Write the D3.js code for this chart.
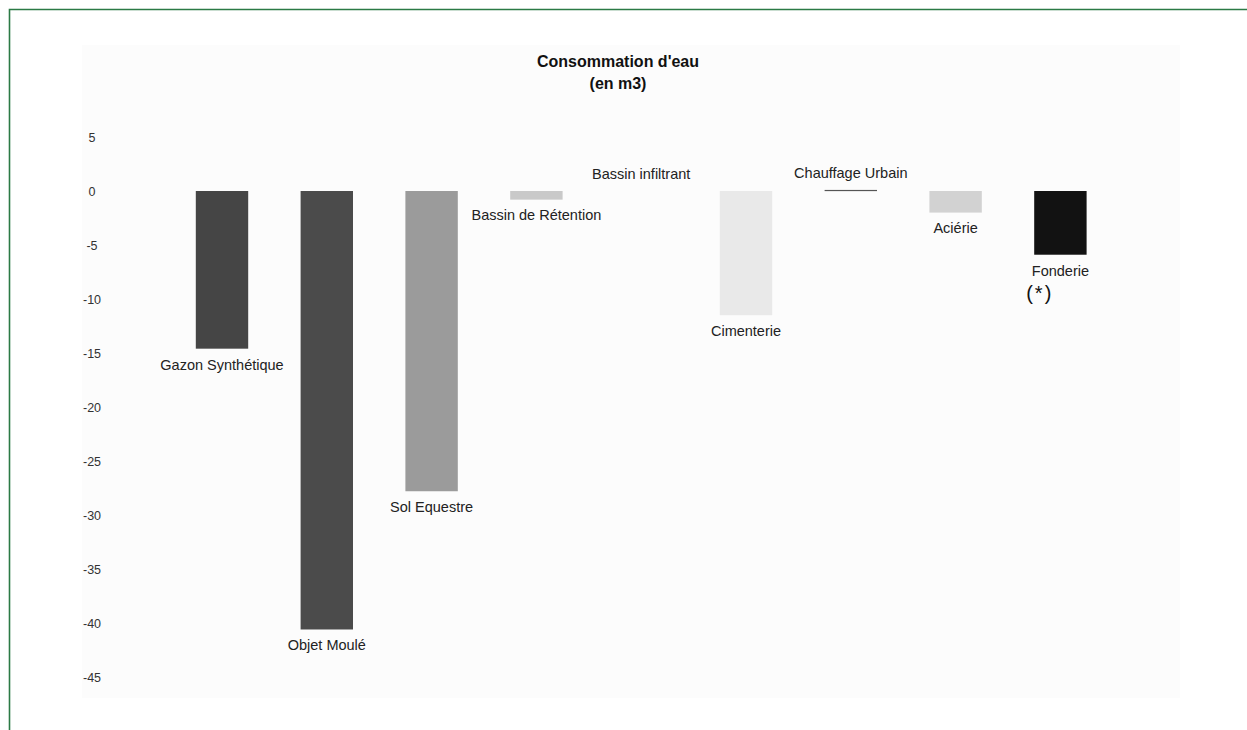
<!DOCTYPE html>
<html>
<head>
<meta charset="utf-8">
<script src="https://cdn.jsdelivr.net/npm/d3@7"></script>
<style>
  html, body { margin: 0; padding: 0; background: #fff; }
  svg { display: block; font-family: "Liberation Sans", Arial, Helvetica, sans-serif; }
</style>
</head>
<body>
<svg id="chart" width="1247" height="730"></svg>
<script>
// Water consumption per product line (m3)
const categories = [
  "Gazon Synthétique", "Objet Moulé", "Sol Equestre", "Bassin de Rétention",
  "Bassin infiltrant", "Cimenterie", "Chauffage Urbain", "Aciérie", "Fonderie"
];
const values = [-14.6, -40.6, -27.8, -0.8, 0, -11.5, 0.1, -2.0, -5.9];
const barColors = ["#454545", "#4b4b4b", "#9b9b9b", "#c9c9c9", "#d0d0d0", "#e9e9e9", "#555555", "#d2d2d2", "#121212"];
const yTicks = [5, 0, -5, -10, -15, -20, -25, -30, -35, -40, -45];
const titleLines = ["Consommation d'eau", "(en m3)"];
const footnote = { category: "Fonderie", text: "(*)" };

const svg = d3.select("#chart");

// outer frame: green rule along the top and left edges
svg.append("path")
  .attr("d", "M9.5,730 V9.5 H1247")
  .attr("fill", "none")
  .attr("stroke", "#2b7a45")
  .attr("stroke-width", 1.6);

// faint plotting panel
svg.append("rect")
  .attr("x", 82).attr("y", 45)
  .attr("width", 1098).attr("height", 653)
  .attr("fill", "#fcfcfc");

const y = d3.scaleLinear().domain([5, -45]).range([137, 677]);
const x = d3.scaleBand()
  .domain(categories)
  .range([169.6, 1112.8])
  .paddingInner(0.5)
  .paddingOuter(0.25);

// title
svg.append("g")
  .selectAll("text")
  .data(titleLines)
  .join("text")
  .attr("x", 618)
  .attr("y", (d, i) => 67 + i * 22)
  .attr("text-anchor", "middle")
  .attr("font-size", 16)
  .attr("font-weight", "bold")
  .attr("fill", "#111")
  .text(d => d);

// y axis: labels only, no line or ticks
const yAxis = d3.axisLeft(y).tickValues(yTicks).tickSize(0).tickPadding(0).tickFormat(d => String(d));
const yg = svg.append("g").attr("transform", "translate(92,0)").call(yAxis);
yg.select(".domain").remove();
yg.selectAll("text")
  .attr("text-anchor", "middle")
  .attr("font-size", 12.5)
  .attr("font-family", "Liberation Sans, Arial, sans-serif")
  .attr("fill", "#333");

const data = categories.map((c, i) => ({ name: c, value: values[i], color: barColors[i] }));

// bars
svg.append("g")
  .selectAll("rect")
  .data(data.filter(d => d.value !== 0))
  .join("rect")
  .attr("x", d => x(d.name))
  .attr("width", x.bandwidth())
  .attr("y", d => Math.min(y(d.value), y(0)))
  .attr("height", d => Math.max(1.2, Math.abs(y(d.value) - y(0))))
  .attr("fill", d => d.color);

// category labels under negative bars, above zero / positive ones
svg.append("g")
  .selectAll("text")
  .data(data)
  .join("text")
  .attr("x", d => x(d.name) + x.bandwidth() / 2)
  .attr("y", d => d.value < 0 ? y(d.value) + 17 : y(Math.max(0, d.value)) - 16)
  .attr("dominant-baseline", "middle")
  .attr("text-anchor", "middle")
  .attr("font-size", 14.5)
  .attr("fill", "#222")
  .text(d => d.name);

// footnote marker under the Fonderie label
const fd = data.find(d => d.name === footnote.category);
svg.append("text")
  .attr("x", x(fd.name) - 8)
  .attr("y", y(fd.value) + 40)
  .attr("dominant-baseline", "middle")
  .attr("font-size", 20)
  .attr("letter-spacing", 2)
  .attr("fill", "#111")
  .text(footnote.text);
</script>
</body>
</html>
